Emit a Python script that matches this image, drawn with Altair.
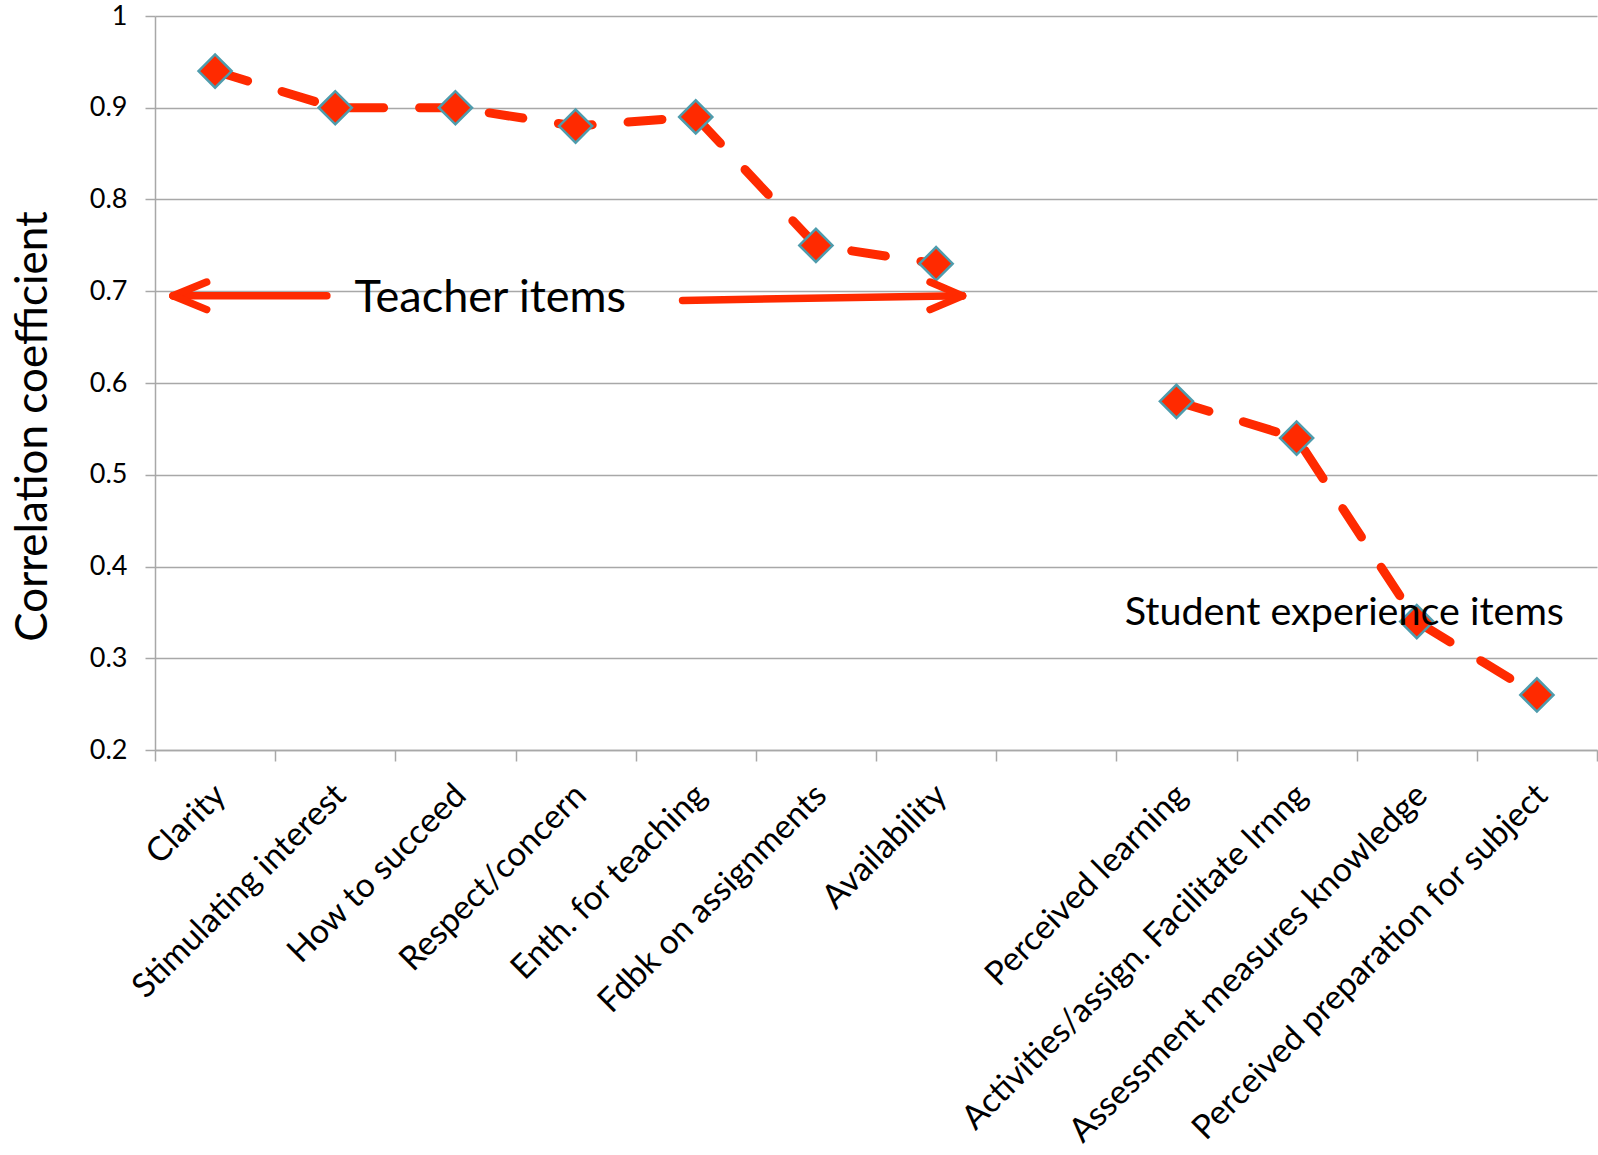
import altair as alt
import pandas as pd

categories = ["Clarity", "Stimulating interest", "How to succeed", "Respect/concern",
              "Enth. for teaching", "Fdbk on assignments", "Availability", " ",
              "Perceived learning", "Activities/assign. Facilitate lrnng",
              "Assessment measures knowledge", "Perceived preparation for subject"]
values = [0.94, 0.90, 0.90, 0.88, 0.89, 0.75, 0.73, None, 0.58, 0.54, 0.34, 0.26]
groups = ["Teacher"] * 7 + [None] + ["Student"] * 4
y_ticks = [0.2, 0.3, 0.4, 0.5, 0.6, 0.7, 0.8, 0.9, 1.0]

# annotation arrows in data units (x: band index units 0..12, y: correlation)
arrow_x = [0.15, 0.15, 0.15, 4.39, 6.72, 6.72]
arrow_x2 = [1.43, 0.43, 0.43, 6.72, 6.45, 6.45]
arrow_y = [0.695, 0.695, 0.695, 0.690, 0.695, 0.695]
arrow_y2 = [0.695, 0.710, 0.680, 0.695, 0.710, 0.680]

teacher_label = ["Teacher items"]
teacher_pos = [(1.66, 0.677)]
student_label = ["Student experience items"]
student_pos = [(8.07, 0.336)]

RED = "#FF2A00"
TEAL = "#4E9CAD"
GRID = "#A8A8A8"
FONT = "Lato"

df = pd.DataFrame({"item": categories, "value": values, "group": groups}).dropna()

x_enc = alt.X("item:N", sort=categories,
              scale=alt.Scale(domain=categories, paddingInner=0, paddingOuter=0),
              axis=alt.Axis(title=None, tickBand="extent", tickSize=11, tickColor=GRID,
                            tickWidth=1.5, domainColor=GRID, domainWidth=1.5,
                            labelAngle=-45, labelAlign="right", labelBaseline="middle",
                            labelFontSize=33.5, labelPadding=29, labelOffset=5, labelLimit=0,
                            labelColor="black", labelFont=FONT, grid=False))
y_scale = alt.Scale(domain=[0.2, 1.0], nice=False, zero=False)
y_axis = alt.Axis(title="Correlation coefficient", values=y_ticks,
                  labelExpr="datum.value == 1 ? '1' : format(datum.value, '.1f')",
                  grid=True, gridColor=GRID, gridWidth=1.5,
                  domainColor=GRID, domainWidth=1.5,
                  tickSize=10, tickColor=GRID, tickWidth=1.5,
                  labelFontSize=27, labelPadding=18, labelColor="black",
                  labelFont=FONT, titleFont=FONT, titleFontSize=44,
                  titleFontWeight="normal", titleColor="black",
                  titleX=-122, titleY=410, titleBaseline="middle", titleAlign="center")
y_enc = alt.Y("value:Q", scale=y_scale, axis=y_axis)

base = alt.Chart(df).encode(x=x_enc, y=y_enc)
line = base.mark_line(color=RED, strokeWidth=9, strokeDash=[34, 36], strokeCap="round").encode(
    detail="group:N")
points = base.mark_point(shape="diamond", fill=RED, stroke=TEAL, strokeWidth=2.5,
                         size=1100, opacity=1, fillOpacity=1)
main = alt.layer(line, points)

ax = alt.Scale(domain=[0, 12], nice=False, zero=False)
arrows = pd.DataFrame({"x": arrow_x, "x2": arrow_x2, "value": arrow_y, "value2": arrow_y2})
rules = alt.Chart(arrows).mark_rule(color=RED, strokeWidth=7.5, strokeCap="round").encode(
    x=alt.X("x:Q", scale=ax, axis=None), x2="x2:Q",
    y=y_enc, y2="value2:Q")

tdf = pd.DataFrame({"label": teacher_label, "x": [p[0] for p in teacher_pos],
                    "value": [p[1] for p in teacher_pos]})
sdf = pd.DataFrame({"label": student_label, "x": [p[0] for p in student_pos],
                    "value": [p[1] for p in student_pos]})
t1 = alt.Chart(tdf).mark_text(font=FONT, fontSize=45, align="left", baseline="alphabetic",
                              color="black").encode(
    x=alt.X("x:Q", scale=ax, axis=None), y=y_enc, text="label:N")
t2 = alt.Chart(sdf).mark_text(font=FONT, fontSize=39.5, align="left", baseline="alphabetic",
                              color="black").encode(
    x=alt.X("x:Q", scale=ax, axis=None), y=y_enc, text="label:N")
annot = alt.layer(rules, t1, t2)

chart = alt.layer(main, annot).resolve_scale(x="independent").properties(
    width=1442, height=734,
    autosize=alt.AutoSizeParams(type="none"),
    padding={"left": 155, "top": 16, "right": 1, "bottom": 405},
    background="white",
).configure_view(stroke=None)

chart.save("out.html", embed_options={"renderer": "svg", "actions": False})
